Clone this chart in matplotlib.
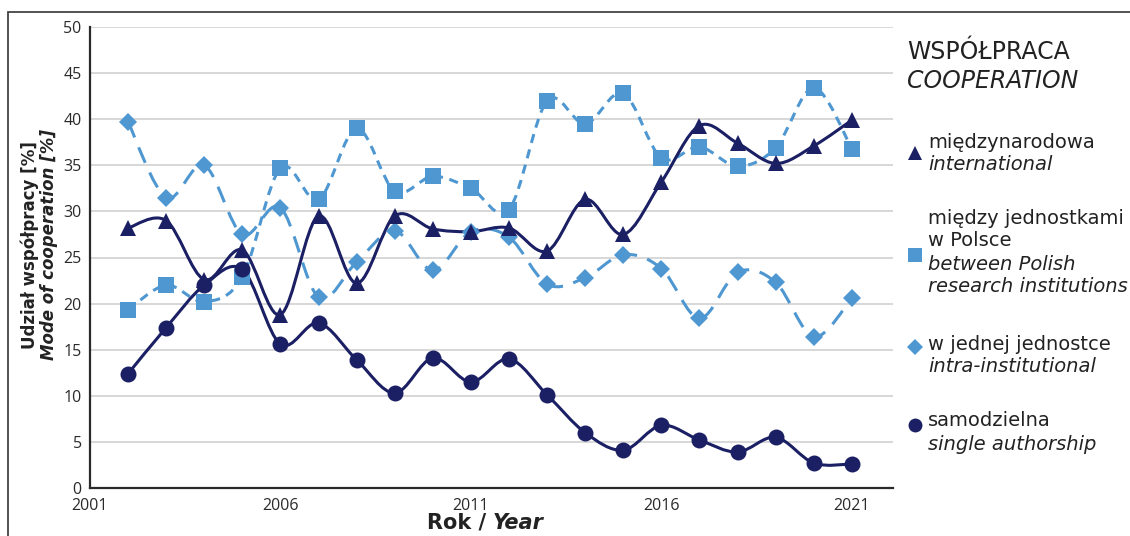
import numpy as np
import matplotlib
matplotlib.use("Agg")
import matplotlib.pyplot as plt
from matplotlib.path import Path
from matplotlib.patches import PathPatch, Rectangle
from matplotlib.lines import Line2D

# share of publications by mode of cooperation [%], 2002-2021
years = list(range(2002, 2022))
international = [28.2, 29.0, 22.6, 25.8, 18.8, 29.5, 22.2, 29.5, 28.1, 27.8,
                 28.2, 25.7, 31.3, 27.5, 33.2, 39.3, 37.4, 35.2, 37.1, 39.9]
polish_inst = [19.3, 22.0, 20.2, 22.9, 34.7, 31.3, 39.0, 32.2, 33.8, 32.5,
               30.2, 42.0, 39.5, 42.8, 35.8, 37.0, 34.9, 36.9, 43.4, 36.8]
intra_inst = [39.7, 31.5, 35.0, 27.5, 30.4, 20.7, 24.5, 27.9, 23.6, 27.8,
              27.2, 22.1, 22.8, 25.3, 23.8, 18.4, 23.4, 22.3, 16.4, 20.6]
single = [12.4, 17.4, 22.0, 23.7, 15.6, 17.9, 13.9, 10.3, 14.1, 11.5,
          14.0, 10.1, 6.0, 4.1, 6.8, 5.2, 3.9, 5.5, 2.7, 2.6]

xticks = [2001, 2006, 2011, 2016, 2021]
yticks = list(range(0, 51, 5))

NAVY = "#1b1f63"
LIGHT = "#4f97d1"

W, H = 1130, 536


def px(x, y):
    # pixel position (from top-left) -> figure fraction
    return x / W, 1 - y / H


def smooth_path(x, y):
    # Catmull-Rom curve through the points, written as cubic Beziers
    pts = np.column_stack([x, y]).astype(float)
    n = len(pts)
    verts = [pts[0]]
    codes = [Path.MOVETO]
    for i in range(n - 1):
        p0 = pts[i - 1] if i > 0 else pts[i]
        p1 = pts[i]
        p2 = pts[i + 1]
        p3 = pts[i + 2] if i + 2 < n else pts[i + 1]
        verts += [p1 + (p2 - p0) / 6, p2 - (p3 - p1) / 6, p2]
        codes += [Path.CURVE4] * 3
    return Path(verts, codes)


fig = plt.figure(figsize=(W / 100, H / 100), dpi=100)
ax = fig.add_axes([90 / W, 1 - 488 / H, (893 - 90) / W, (488 - 27) / H])

series = [
    (polish_inst, LIGHT, (0, (3, 2.2)), "s", 11),
    (intra_inst, LIGHT, (0, (5.5, 3.5)), "D", 9.5),
    (single, NAVY, "-", "o", 11.5),
    (international, NAVY, "-", "^", 12),
]
for vals, col, ls, mk, ms in series:
    ax.add_patch(PathPatch(smooth_path(years, vals), fill=False, edgecolor=col,
                           lw=2.2, linestyle=ls, capstyle="butt", zorder=3))
    ax.plot(years, vals, linestyle="none", marker=mk, ms=ms, color=col,
            markeredgewidth=0, zorder=4)

ax.set_xlim(2001, 2022.08)
ax.set_ylim(0, 50)
ax.set_xticks(xticks)
ax.set_yticks(yticks)
ax.grid(axis="y", color="#d4d4d4", lw=1.3)
ax.set_axisbelow(True)
for s in ["top", "right"]:
    ax.spines[s].set_visible(False)
for s in ["left", "bottom"]:
    ax.spines[s].set_color("#2a2a2a")
    ax.spines[s].set_linewidth(1.6)
ax.tick_params(length=0, labelsize=11.5, colors="#2a2a2a")
ax.tick_params(axis="y", pad=6)
ax.tick_params(axis="x", pad=7)
for lab in ax.get_xticklabels() + ax.get_yticklabels():
    lab.set_fontfamily("Open Sans")

# axis titles
fig.text(*px(30, 245), "Udział współpracy [%]", rotation=90, fontsize=12,
         fontweight="bold", ha="center", va="center", color="#222222")
fig.text(*px(49, 244), "Mode of cooperation [%]", rotation=90, fontsize=12,
         fontweight="bold", style="italic", ha="center", va="center", color="#222222")
fig.text(*px(486, 523), "Rok /", fontsize=15, fontweight="bold",
         ha="right", va="center", color="#222222")
fig.text(*px(493, 523), "Year", fontsize=15, fontweight="bold", style="italic",
         ha="left", va="center", color="#222222")

# legend drawn by hand on the right
tc = "#222222"
fig.text(*px(907, 52), "WSPÓŁPRACA", fontsize=17, ha="left", va="center", color=tc)
fig.text(*px(907, 81), "COOPERATION", fontsize=17, style="italic",
         ha="left", va="center", color=tc)

entries = [
    ("^", NAVY, 10, 153, [("międzynarodowa", 142, "normal"),
                          ("international", 165, "italic")]),
    ("s", LIGHT, 10.5, 255, [("między jednostkami", 219, "normal"),
                             ("w Polsce", 241, "normal"),
                             ("between Polish", 265, "italic"),
                             ("research institutions", 287, "italic")]),
    ("D", LIGHT, 8, 347, [("w jednej jednostce", 344, "normal"),
                          ("intra-institutional", 367, "italic")]),
    ("o", NAVY, 10, 425, [("samodzielna", 421, "normal"),
                          ("single authorship", 444, "italic")]),
]
for mk, col, ms, my, lines in entries:
    fx, fy = px(915, my)
    fig.add_artist(Line2D([fx], [fy], marker=mk, ms=ms, color=col,
                          markeredgewidth=0, linestyle="none"))
    for txt, ty, st in lines:
        fig.text(*px(928, ty), txt, fontsize=14, style=st, ha="left",
                 va="center", color=tc)

# outer frame around the chart
fig.add_artist(Rectangle(px(8, 560), (1200 - 8) / W, (560 - 12) / H,
                         transform=fig.transFigure, fill=False,
                         edgecolor="#444444", lw=1.3))

fig.savefig("out.png", dpi=100)
